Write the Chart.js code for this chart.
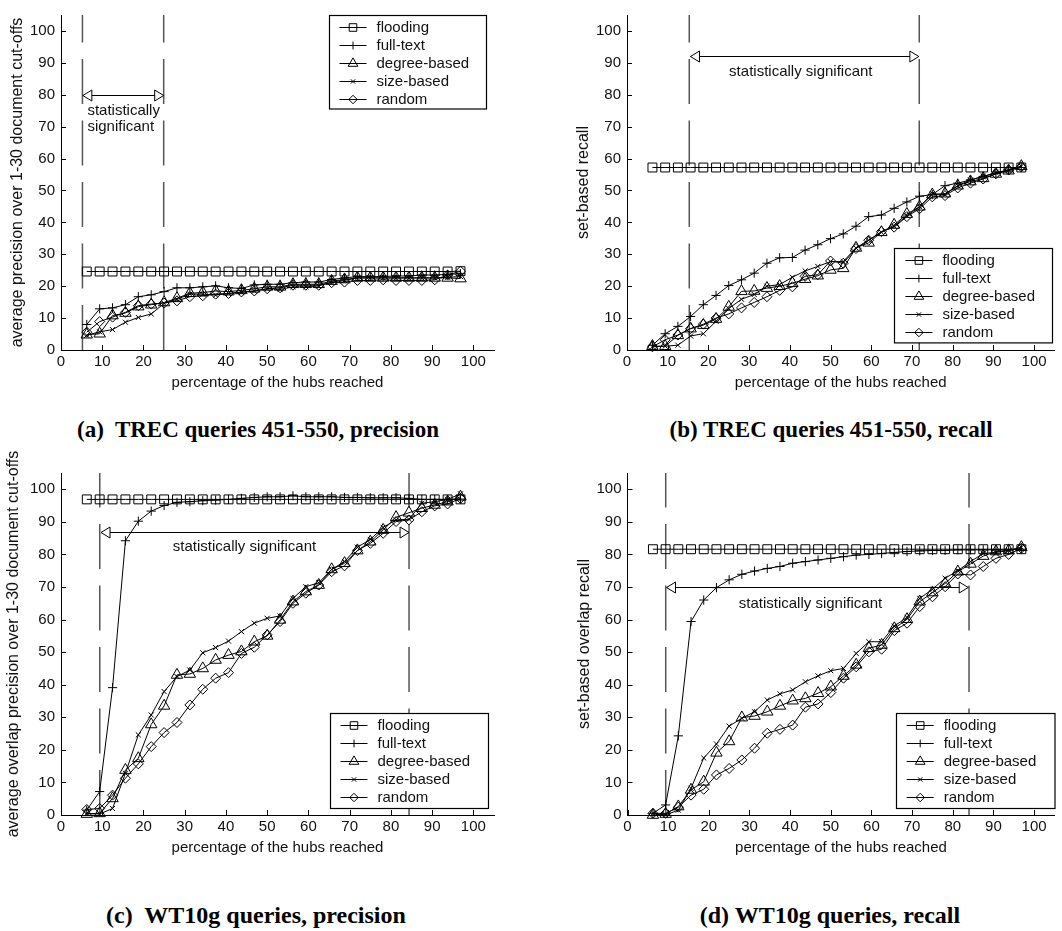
<!DOCTYPE html>
<html>
<head>
<meta charset="utf-8">
<script src="https://cdn.jsdelivr.net/npm/chart.js@4.4.1/dist/chart.umd.min.js"></script>
<style>
html, body { margin: 0; padding: 0; background: #fff; }
#page { position: relative; width: 1062px; height: 931px; overflow: hidden; background: #fff; }
canvas { position: absolute; display: block; }
.cap { position: absolute; font-family: "Liberation Serif", "Times New Roman", serif; font-weight: bold; white-space: pre; transform: translate(-50%, -50%); color: #000; line-height: 1; }
</style>
</head>
<body>
<div id="page">
  <canvas id="ca" width="531" height="400" style="left:0px;top:0px"></canvas>
  <canvas id="cb" width="531" height="400" style="left:531px;top:0px"></canvas>
  <canvas id="cc" width="531" height="420" style="left:0px;top:445px"></canvas>
  <canvas id="cd" width="531" height="420" style="left:531px;top:445px"></canvas>
  <div class="cap" style="left:258px;top:429px;font-size:23px">(a)  TREC queries 451-550, precision</div>
  <div class="cap" style="left:831px;top:429px;font-size:23px">(b) TREC queries 451-550, recall</div>
  <div class="cap" style="left:256px;top:915px;font-size:24px">(c)  WT10g queries, precision</div>
  <div class="cap" style="left:830px;top:915px;font-size:24px">(d) WT10g queries, recall</div>
</div>
<script>
// ---------------- DATA ----------------
const seriesNames = ['flooding', 'full-text', 'degree-based', 'size-based', 'random'];
const hubsReached = [6.25, 9.375, 12.5, 15.625, 18.75, 21.875, 25, 28.125, 31.25, 34.375,
  37.5, 40.625, 43.75, 46.875, 50, 53.125, 56.25, 59.375, 62.5, 65.625,
  68.75, 71.875, 75, 78.125, 81.25, 84.375, 87.5, 90.625, 93.75, 96.875];
const xTickValues = [0, 10, 20, 30, 40, 50, 60, 70, 80, 90, 100];
const yTickValues = [0, 10, 20, 30, 40, 50, 60, 70, 80, 90, 100];

// (a) TREC precision
const aFlooding = [24.6, 24.6, 24.6, 24.6, 24.6, 24.6, 24.6, 24.6, 24.6, 24.6, 24.6, 24.6, 24.6, 24.6, 24.6, 24.6, 24.6, 24.6, 24.6, 24.6, 24.6, 24.6, 24.6, 24.6, 24.6, 24.6, 24.6, 24.6, 24.6, 24.7];
const aFullText = [8.0, 12.9, 13.2, 14.2, 16.7, 17.3, 18.3, 19.5, 19.5, 19.8, 20.1, 19.5, 19.3, 20.4, 20.6, 20.6, 21.1, 21.3, 21.3, 22.1, 22.6, 23.0, 23.0, 23.0, 23.2, 23.2, 23.5, 23.5, 23.7, 23.9];
const aDegree = [4.8, 5.1, 10.8, 11.6, 13.6, 14.2, 14.9, 16.2, 17.8, 18.0, 18.5, 18.3, 18.7, 19.2, 19.8, 19.8, 20.6, 20.6, 20.6, 21.6, 22.1, 22.6, 22.6, 22.6, 22.6, 22.6, 22.6, 22.6, 22.6, 22.4];
const aSize = [4.6, 5.7, 6.4, 8.7, 10.2, 11.3, 14.6, 15.9, 17.5, 17.5, 17.2, 17.7, 18.0, 18.5, 19.2, 19.0, 19.8, 19.8, 20.1, 21.3, 21.8, 22.6, 22.6, 22.6, 22.6, 22.6, 22.6, 22.6, 22.8, 23.0];
const aRandom = [5.6, 8.9, 10.3, 11.8, 13.9, 14.4, 14.7, 15.4, 16.7, 17.0, 17.5, 17.7, 18.2, 18.5, 19.2, 19.5, 20.3, 20.3, 20.3, 21.1, 21.3, 21.8, 21.8, 22.0, 21.8, 21.8, 21.8, 22.0, 23.5, 24.7];

// (b) TREC recall
const bFlooding = [57.2, 57.2, 57.2, 57.2, 57.2, 57.2, 57.2, 57.2, 57.2, 57.2, 57.2, 57.2, 57.2, 57.2, 57.2, 57.2, 57.2, 57.2, 57.2, 57.2, 57.2, 57.2, 57.2, 57.2, 57.2, 57.2, 57.2, 57.2, 57.2, 57.2];
const bFullText = [1.5, 5.1, 7.4, 10.5, 14.2, 17.1, 20.2, 22.0, 24.1, 27.2, 28.9, 29.0, 31.3, 33.0, 34.9, 36.4, 38.8, 41.8, 42.3, 44.4, 46.4, 48.2, 48.7, 51.5, 52.3, 53.3, 54.4, 55.4, 56.4, 57.2];
const bDegree = [1.2, 1.2, 4.6, 6.7, 7.8, 9.7, 13.5, 18.4, 18.5, 19.4, 20.0, 20.9, 22.2, 23.3, 25.1, 25.6, 32.0, 33.6, 36.9, 39.2, 42.6, 44.9, 48.7, 49.0, 51.5, 52.8, 53.8, 55.2, 56.2, 57.6];
const bSize = [1.0, 1.2, 1.5, 4.4, 5.1, 9.0, 13.0, 15.9, 17.4, 20.0, 20.5, 22.8, 24.8, 26.2, 27.7, 27.7, 32.0, 34.4, 36.9, 38.8, 42.1, 44.9, 49.0, 48.7, 51.5, 53.3, 54.4, 55.6, 56.4, 57.6];
const bRandom = [1.0, 3.2, 4.7, 6.7, 8.1, 10.0, 11.3, 13.2, 14.9, 16.7, 18.7, 19.8, 23.1, 23.6, 27.9, 27.2, 31.8, 34.4, 37.1, 38.5, 41.8, 44.3, 48.0, 48.4, 50.8, 52.3, 53.6, 55.2, 56.4, 57.4];

// (c) WT10g precision
const cFlooding = [96.9, 96.9, 96.9, 96.9, 96.9, 96.9, 96.9, 96.9, 96.9, 96.9, 96.9, 96.9, 96.9, 96.9, 96.9, 96.9, 96.9, 96.9, 96.9, 96.9, 96.9, 96.9, 96.9, 96.9, 96.9, 96.9, 96.9, 96.9, 96.9, 96.9];
const cFullText = [1.5, 7.2, 39.1, 84.2, 90.2, 93.3, 95.0, 96.0, 96.2, 96.5, 96.7, 96.9, 97.2, 97.5, 97.7, 97.7, 98.0, 97.7, 97.7, 97.7, 97.5, 97.5, 97.4, 97.4, 97.4, 97.2, 96.9, 96.9, 96.9, 97.0];
const cDegree = [0.3, 0.5, 5.1, 13.8, 17.4, 27.8, 33.5, 43.0, 43.3, 45.0, 47.6, 49.1, 50.2, 53.2, 55.0, 59.9, 65.5, 68.6, 70.6, 75.4, 77.3, 81.2, 83.9, 87.5, 91.4, 92.8, 94.2, 95.2, 96.2, 97.7];
const cSize = [0.5, 0.3, 2.0, 12.8, 24.6, 30.7, 37.9, 42.5, 44.5, 49.8, 51.4, 53.4, 56.3, 58.9, 60.4, 61.1, 66.5, 70.1, 71.3, 75.4, 77.8, 82.2, 84.6, 88.3, 90.6, 90.8, 95.7, 96.2, 96.9, 98.6];
const cRandom = [1.7, 2.0, 6.1, 11.3, 15.7, 21.0, 25.3, 28.4, 33.8, 38.6, 42.0, 43.7, 49.6, 51.5, 55.3, 59.4, 65.0, 68.1, 70.6, 74.7, 76.5, 81.2, 83.4, 86.5, 90.1, 90.6, 93.1, 94.9, 95.5, 97.2];

// (d) WT10g recall
const dFlooding = [81.6, 81.6, 81.6, 81.6, 81.6, 81.6, 81.6, 81.6, 81.6, 81.6, 81.6, 81.6, 81.6, 81.6, 81.6, 81.6, 81.6, 81.6, 81.6, 81.6, 81.6, 81.6, 81.6, 81.6, 81.6, 81.6, 81.6, 81.6, 81.6, 81.6];
const dFullText = [0.5, 3.1, 24.3, 59.4, 66.0, 69.8, 72.2, 73.9, 74.9, 75.7, 76.3, 77.3, 77.8, 78.3, 78.8, 79.3, 79.8, 80.0, 80.3, 80.6, 80.9, 81.1, 81.2, 81.2, 81.4, 81.4, 81.4, 81.4, 81.4, 81.6];
const dDegree = [0.0, 0.3, 2.6, 7.7, 10.2, 19.1, 22.6, 29.9, 30.4, 31.7, 33.5, 35.1, 35.8, 37.4, 39.4, 42.7, 46.1, 51.2, 52.2, 57.3, 60.1, 65.5, 68.3, 71.1, 74.7, 77.1, 79.5, 80.9, 81.2, 82.2];
const dSize = [0.5, 0.0, 1.5, 8.2, 17.5, 21.8, 27.3, 29.7, 31.7, 35.3, 37.2, 38.4, 40.9, 42.7, 44.3, 45.0, 49.6, 53.2, 53.2, 58.0, 60.7, 66.5, 69.3, 72.7, 75.0, 77.8, 80.3, 80.6, 81.2, 82.2];
const dRandom = [0.5, 0.5, 2.4, 6.1, 7.9, 12.3, 14.3, 16.9, 20.5, 25.1, 26.3, 27.6, 33.1, 34.1, 37.6, 42.0, 45.5, 50.1, 50.9, 56.6, 58.9, 64.0, 67.0, 70.1, 74.0, 73.7, 76.3, 78.8, 80.0, 81.9];

// significance region markers (data units): [x start, x end], arrow at y
const aSigBounds = [5.2, 24.9]; const aSigArrowY = 80;
const bSigBounds = [15.3, 71.8]; const bSigArrowY = 92;
const cSigBounds = [9.4, 84.4]; const cSigArrowY = 87;
const dSigBounds = [9.4, 84.0]; const dSigArrowY = 70;

// ---------------- STYLE ----------------
const FONT = '"Liberation Sans", Arial, Helvetica, sans-serif';
const pointStyles = ['rect', 'cross', 'triangle', 'crossRot', 'rectRot'];
const pointRadii = [6.3, 4.6, 6.6, 3.6, 5.0];

function drawMarker(ctx, style, r, x, y) {
  if (Chart.helpers && Chart.helpers.drawPoint) {
    Chart.helpers.drawPoint(ctx, {pointStyle: style, radius: r, rotation: 0, borderWidth: 1}, x, y);
  }
}

const decorPlugin = {
  id: 'decor',
  beforeDatasetsDraw(chart) {
    const o = chart.options.plugins.decor;
    const ctx = chart.ctx, xs = chart.scales.x, ys = chart.scales.y, ca = chart.chartArea;
    ctx.save();
    // dashed vertical boundaries
    ctx.strokeStyle = '#555'; ctx.lineWidth = 1.5; ctx.setLineDash([45, 16.5]);
    o.bounds.forEach(v => {
      const px = xs.getPixelForValue(v);
      ctx.beginPath(); ctx.moveTo(px, ys.getPixelForValue(0)); ctx.lineTo(px, ca.top); ctx.stroke();
    });
    ctx.setLineDash([]);
    // double arrow
    const ay = Math.round(ys.getPixelForValue(o.arrowY)) + 0.5;
    const x1 = xs.getPixelForValue(o.arrowX[0]), x2 = xs.getPixelForValue(o.arrowX[1]);
    ctx.strokeStyle = '#000'; ctx.lineWidth = 1;
    ctx.beginPath(); ctx.moveTo(x1, ay); ctx.lineTo(x2, ay); ctx.stroke();
    ctx.fillStyle = '#fff';
    [[x1, 1], [x2, -1]].forEach(([tx, d]) => {
      ctx.beginPath(); ctx.moveTo(tx, ay); ctx.lineTo(tx + d * 9, ay - 5.5); ctx.lineTo(tx + d * 9, ay + 5.5);
      ctx.closePath(); ctx.fill(); ctx.stroke();
    });
    // label text
    ctx.fillStyle = '#111'; ctx.font = '15px ' + FONT; ctx.textBaseline = 'alphabetic'; ctx.textAlign = o.textAlign;
    o.text.forEach(t => ctx.fillText(t[0], xs.getPixelForValue(t[1]), ys.getPixelForValue(t[2])));
    ctx.restore();
  },
  afterDraw(chart) {
    const o = chart.options.plugins.decor;
    const ctx = chart.ctx, xs = chart.scales.x, ys = chart.scales.y, ca = chart.chartArea;
    ctx.save();
    // inward tick marks
    ctx.strokeStyle = '#000'; ctx.lineWidth = 1;
    ctx.beginPath();
    xTickValues.forEach(v => {
      const px = Math.round(xs.getPixelForValue(v)) + 0.5;
      ctx.moveTo(px, ca.bottom); ctx.lineTo(px, ca.bottom - 5);
    });
    yTickValues.forEach(v => {
      const py = Math.round(ys.getPixelForValue(v)) + 0.5;
      ctx.moveTo(ca.left, py); ctx.lineTo(ca.left + 5, py);
    });
    ctx.stroke();
    // y axis title
    ctx.save();
    ctx.translate(o.yTitleX, (ca.top + ca.bottom) / 2);
    ctx.rotate(-Math.PI / 2);
    ctx.fillStyle = '#111'; ctx.font = '16px ' + FONT; ctx.textAlign = 'center'; ctx.textBaseline = 'middle';
    ctx.fillText(o.yTitle, 0, 0);
    ctx.restore();
    // legend box
    const L = o.legend;
    ctx.fillStyle = '#fff'; ctx.fillRect(L.x, L.y, L.w, L.h);
    ctx.strokeStyle = '#000'; ctx.lineWidth = 1.2;
    ctx.strokeRect(Math.round(L.x) + 0.5, Math.round(L.y) + 0.5, L.w, L.h);
    ctx.lineWidth = 1;
    chart.data.datasets.forEach((ds, i) => {
      const cy = Math.round(L.y + 11.7 + i * 17.9) + 0.5;
      ctx.strokeStyle = '#000';
      ctx.beginPath(); ctx.moveTo(L.x + 11, cy); ctx.lineTo(L.x + 38, cy); ctx.stroke();
      ctx.fillStyle = 'rgba(0,0,0,0)';
      drawMarker(ctx, ds.pointStyle, ds.pointRadius * 0.85, L.x + 24.5, cy);
      ctx.fillStyle = '#111'; ctx.font = '15px ' + FONT; ctx.textAlign = 'left'; ctx.textBaseline = 'middle';
      ctx.fillText(ds.label, L.x + 48, cy);
    });
    ctx.restore();
  }
};

function makeChart(id, p) {
  const datasets = p.values.map((vals, i) => ({
    label: seriesNames[i],
    data: hubsReached.map((h, k) => ({x: h, y: vals[k]})),
    borderColor: '#000', borderWidth: 1,
    pointStyle: pointStyles[i], pointRadius: pointRadii[i],
    pointBorderColor: '#000', pointBackgroundColor: 'rgba(0,0,0,0)', pointBorderWidth: 1,
    tension: 0, fill: false, clip: false
  }));
  const tickFont = {family: FONT, size: 15};
  return new Chart(document.getElementById(id), {
    type: 'line',
    data: {datasets},
    options: {
      responsive: false, animation: false, devicePixelRatio: 1,
      layout: {padding: {left: 0, right: p.padRight, top: p.padTop, bottom: 0}},
      scales: {
        x: {
          type: 'linear', min: 0, max: 105,
          afterBuildTicks: s => { s.ticks = xTickValues.map(v => ({value: v})); },
          ticks: {stepSize: 10, padding: 3, color: '#111', font: tickFont, maxRotation: 0, autoSkip: false},
          grid: {display: false, drawTicks: false},
          border: {display: true, color: '#000', width: 1},
          title: {display: true, text: 'percentage of the hubs reached', color: '#111', font: tickFont, padding: {top: 0, bottom: 8}},
          afterFit: s => { s.height = 50; }
        },
        y: {
          type: 'linear', min: 0, max: 105,
          afterBuildTicks: s => { s.ticks = yTickValues.map(v => ({value: v})); },
          ticks: {stepSize: 10, padding: 6, color: '#111', font: tickFont},
          grid: {display: false, drawTicks: false},
          border: {display: true, color: '#000', width: 1},
          afterFit: s => { s.width = p.yWidth; }
        }
      },
      plugins: {
        legend: {display: false},
        tooltip: {enabled: false},
        decor: {
          bounds: p.bounds, arrowX: p.arrowX, arrowY: p.arrowY,
          text: p.text, textAlign: p.textAlign,
          yTitle: p.yTitle, yTitleX: p.yTitleX, legend: p.legend
        }
      }
    },
    plugins: [decorPlugin]
  });
}

makeChart('ca', {
  values: [aFlooding, aFullText, aDegree, aSize, aRandom],
  padRight: 37, padTop: 10, yWidth: 61,
  bounds: aSigBounds, arrowX: [5.3, 24.9], arrowY: aSigArrowY,
  text: [['statistically', 6.4, 73.6], ['significant', 6.4, 68.7]], textAlign: 'left',
  yTitle: 'average precision over 1-30 document cut-offs', yTitleX: 18,
  legend: {x: 328.5, y: 15.3, w: 157, h: 93.5}
});
makeChart('cb', {
  values: [bFlooding, bFullText, bDegree, bSize, bRandom],
  padRight: 2.4, padTop: 10, yWidth: 96,
  bounds: bSigBounds, arrowX: [15.6, 71.7], arrowY: bSigArrowY,
  text: [['statistically significant', 42.7, 86.0]], textAlign: 'center',
  yTitle: 'set-based recall', yTitleX: 52.5,
  legend: {x: 363.4, y: 248.3, w: 158, h: 94.4}
});
makeChart('cc', {
  values: [cFlooding, cFullText, cDegree, cSize, cRandom],
  padRight: 37, padTop: 28, yWidth: 61,
  bounds: cSigBounds, arrowX: [9.7, 84.4], arrowY: cSigArrowY,
  text: [['statistically significant', 44.5, 81.2]], textAlign: 'center',
  yTitle: 'average overlap precision over 1-30 document cut-offs', yTitleX: 13.5,
  legend: {x: 329.5, y: 268.3, w: 158, h: 95}
});
makeChart('cd', {
  values: [dFlooding, dFullText, dDegree, dSize, dRandom],
  padRight: 0, padTop: 28, yWidth: 96.5,
  bounds: dSigBounds, arrowX: [9.6, 83.8], arrowY: dSigArrowY,
  text: [['statistically significant', 45, 63.6]], textAlign: 'center',
  yTitle: 'set-based overlap recall', yTitleX: 54,
  legend: {x: 364.7, y: 268.3, w: 158.5, h: 95}
});
</script>
</body>
</html>
